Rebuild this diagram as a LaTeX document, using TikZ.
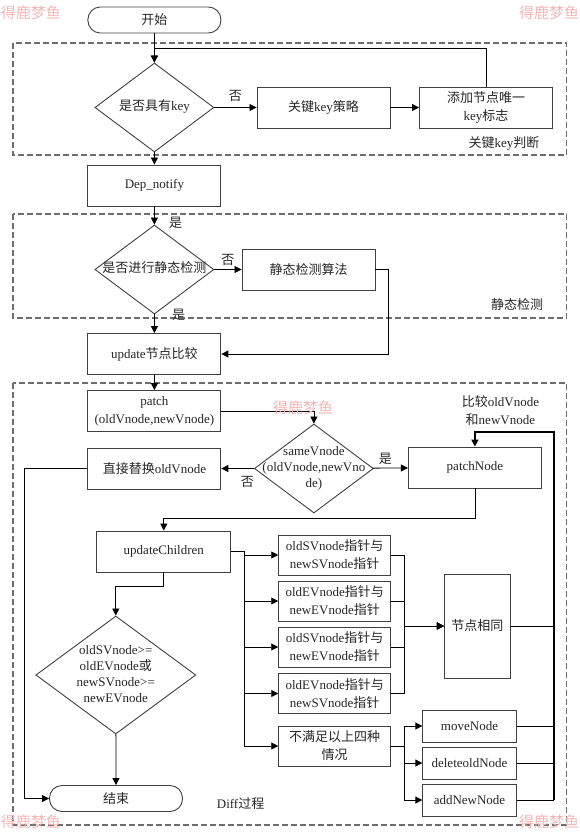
\documentclass[tikz,border=0pt]{standalone}
\usepackage{fontspec}
\setmainfont{Liberation Serif}
\newfontfamily\zhfont{Noto Sans CJK SC}
\newcommand{\zh}[1]{{\zhfont #1}}
\newcommand{\ctext}[1]{\makebox[0pt]{\fontsize{13}{16}\selectfont\begin{tabular}{@{}c@{}}#1\end{tabular}}}
\usetikzlibrary{arrows.meta, shapes.geometric}
\definecolor{boxline}{HTML}{404040}
\definecolor{frameline}{HTML}{6E6E6E}
\definecolor{wmpink}{HTML}{F5B5B5}
\tikzset{
  proc/.style={draw=boxline, line width=0.9pt, minimum width=133pt, minimum height=41pt, align=center, inner sep=1pt},
  term/.style={draw=boxline, line width=0.9pt, rounded corners=12.5pt, minimum width=133pt, minimum height=26pt},
  decide/.style={draw=boxline, line width=0.9pt, diamond, inner sep=0pt, minimum width=119pt, minimum height=89pt},
  frame/.style={draw=frameline, line width=1.2pt, dash pattern=on 6pt off 3pt},
  flow/.style={-{Triangle[length=7pt,width=7pt]}, line width=0.8pt},
  wire/.style={line width=0.8pt},
  wmark/.style={text=wmpink, font=\zhfont\fontsize{15}{15}\selectfont},
}

\begin{document}
\begin{tikzpicture}[x=1pt, y=-1pt, font=\fontsize{13}{18}\selectfont, text=black!85]
	\useasboundingbox (0,0) rectangle (579,836);

	% dashed frames
	\draw[frame] (12.9,43) rectangle (566.8,155);
	\draw[frame] (12.9,214) rectangle (566.8,318);
	\draw[frame] (12.9,383) rectangle (566.8,825);
	\node (keytag) at (504,143) {\zh{关键}key\zh{判断}};
	\node (stattag) at (517,305) {\zh{静态检测}};
	\node (difftag) at (240.6,804) {Diff\zh{过程}};

	% key check
	\node[term] (start) at (154.4,20) {\zh{开始}};
	\node[decide] (haskey) at (154.4,107.5) {\ctext{\zh{是否具有}key}};
	\node[proc] (keyrule) at (323.5,107.5) {\zh{关键}key\zh{策略}};
	\node[proc] (keyid) at (486,107.5) {\zh{添加节点唯一}\\key\zh{标志}};
	\node[proc] (dep) at (154.4,185.5) {Dep\_notify};

	\draw[flow] (start) -- (haskey);
	\draw[flow] (haskey) -- node[above=2pt, pos=0.5] {\zh{否}} (keyrule);
	\draw[flow] (keyrule) -- (keyid);
	\draw[flow] (keyid.north) |- ([yshift=14pt]haskey.north) -- (haskey.north);
	\draw[flow] (haskey) -- (dep);

	% static check
	\node[decide] (isstatic) at (154.4,269.5) {\ctext{\zh{是否进行静态检测}}};
	\node[proc] (static) at (308.5,269.5) {\zh{静态检测算法}};
	\node[proc] (update) at (154.4,354) {update\zh{节点比较}};

	\draw[flow] (dep) -- node[pos=0.9, right=11pt] {\zh{是}} (isstatic);
	\draw[flow] (isstatic) -- node[above] {\zh{否}} (static);
	\draw[flow] (static.east) -- ++(12.5,0) |- (update.east);
	\draw[flow] (isstatic) -- node[pos=0.0, right=14pt] {\zh{是}} (update);

	% diff
	\node[proc] (patch) at (154.4,411) {patch\\(oldVnode,newVnode)};
	\node[decide] (same) at (313.9,468.5) {\ctext{sameVnode\\(oldVnode,newVno\\de)}};
	\node[proc] (replace) at (154.4,468.5) {\zh{直接替换}oldVnode};
	\node[proc] (pnode) at (474.9,467.5) {patchNode};
	\node[align=center] (cmp) at (500.4,411) {\zh{比较}oldVnode\\\zh{和}newVnode};
	\node[proc, minimum width=134pt] (updch) at (163.8,551.5) {updateChildren};
	\node[decide, minimum width=160pt, minimum height=118pt] (ends) at (115.8,675)
		{\ctext{oldSVnode>=\\oldEVnode\zh{或}\\newSVnode>=\\newEVnode}};
	\node[term] (stop) at (116,798.5) {\zh{结束}};

	\draw[flow] (update) -- (patch);
	\draw[flow] (patch.east) -| (same.north);
	\draw[flow] (same) -- node[above, pos=0.35] {\zh{是}} (pnode);
	\draw[flow] (same) -- node[below=4pt, pos=0.2] {\zh{否}} (replace);
	\draw[flow] (replace.west) -- ++(-63.5,0) |- (stop.west);
	\draw[flow] (pnode.south) |- ([yshift=12pt]updch.north) -- (updch.north);
	\draw[flow] (updch.south) -- ++(0,14) -| (ends.north);
	\draw[flow] (ends) -- (stop);

	% pointer cases
	\tikzset{case/.style={proc, minimum width=112pt, minimum height=40pt}}
	\node[case] (c1) at (334.7,555) {oldSVnode\zh{指针与}\\newSVnode\zh{指针}};
	\node[case] (c2) at (334.7,601) {oldEVnode\zh{指针与}\\newEVnode\zh{指针}};
	\node[case] (c3) at (334.7,647) {oldSVnode\zh{指针与}\\newEVnode\zh{指针}};
	\node[case] (c4) at (334.7,693.5) {oldEVnode\zh{指针与}\\newSVnode\zh{指针}};
	\node[case] (c5) at (334.7,746) {\zh{不满足以上四种}\\\zh{情况}};
	\node[proc, minimum width=66pt, minimum height=104pt] (samenode) at (477.3,626) {\zh{节点相同}};
	\tikzset{act/.style={proc, minimum width=93.4pt, minimum height=32pt}}
	\node[act] (move) at (469.5,726) {moveNode};
	\node[act] (del) at (469.5,763) {deleteoldNode};
	\node[act] (add) at (469.5,800) {addNewNode};
	\coordinate (rt) at (553.9,432);

	\foreach \b in {c1,c2,c3,c4,c5}
		\draw[flow] (updch.east) -- ++(13,0) |- (\b.west);
	\foreach \b in {c1,c2,c3,c4}
		\draw[flow] (\b.east) -- ++(13.7,0) |- (samenode.west);
	\foreach \b in {move,del,add}
		\draw[flow] (c5.east) -- ++(13.7,0) |- (\b.west);
	\foreach \b in {samenode,move,del,add}
		\draw[wire] (\b.east) -- (\b.east -| rt);
	\draw[flow, line width=1.6pt] (add.east -| rt) -- (rt) -| (pnode.north);

	% watermarks
	\node[wmark] (wm1) at (31,13) {得鹿梦鱼};
	\node[wmark] (wm2) at (549,13) {得鹿梦鱼};
	\node[wmark] (wm3) at (303,408) {得鹿梦鱼};
	\node[wmark] (wm4) at (31,822) {得鹿梦鱼};
	\node[wmark] (wm5) at (549,822) {得鹿梦鱼};
\end{tikzpicture}
\end{document}
